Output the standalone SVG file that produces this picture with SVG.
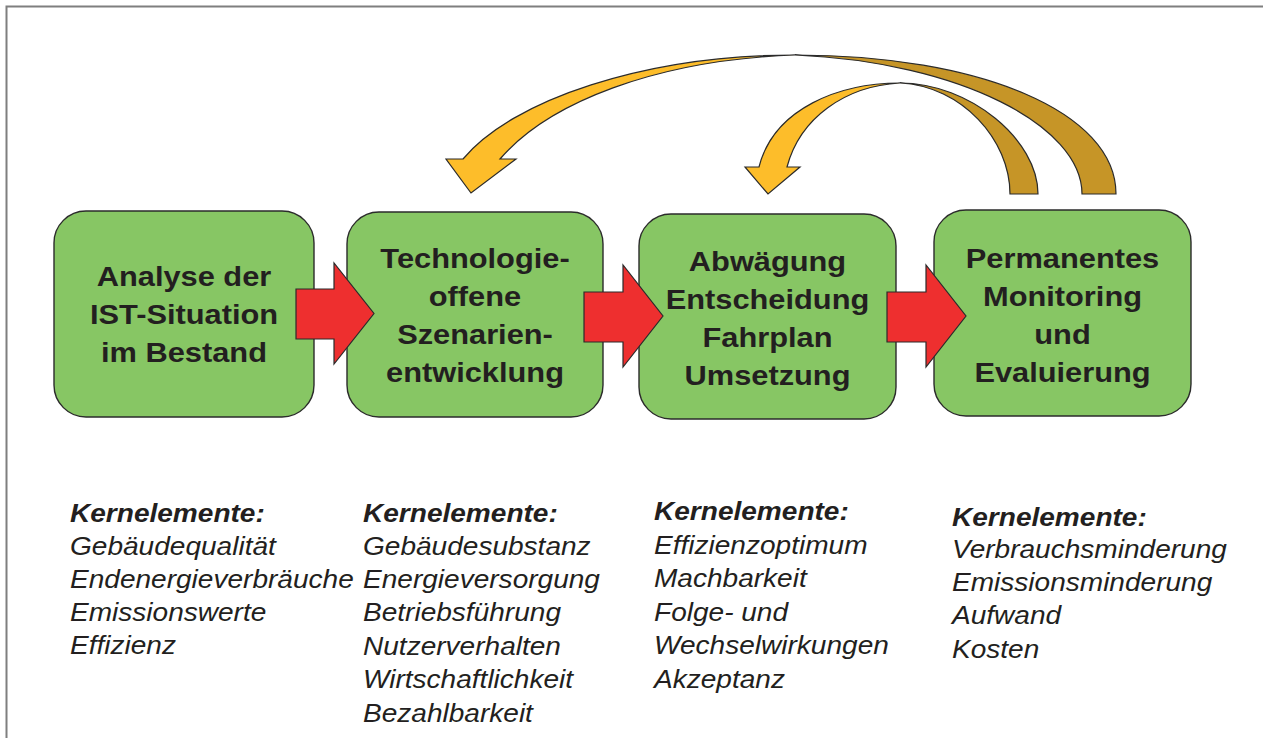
<svg xmlns="http://www.w3.org/2000/svg" width="1263" height="738" viewBox="0 0 1263 738">
  <style>
    .box { fill: #87c664; stroke: #2b2b2b; stroke-width: 1.4; }
    .title { font-family: "Liberation Sans", Arial, sans-serif; font-weight: bold; font-size: 28px; fill: #231f20; text-anchor: middle; }
    .head { font-family: "Liberation Sans", Arial, sans-serif; font-weight: bold; font-style: italic; font-size: 25.5px; fill: #231f20; }
    .item { font-family: "Liberation Sans", Arial, sans-serif; font-style: italic; font-size: 25.5px; fill: #231f20; }
    .flow { fill: #ee2f2f; stroke: #2b2b2b; stroke-width: 1.2; stroke-linejoin: miter; }
    .front { fill: #fdbd2a; stroke: #2b2b2b; stroke-width: 1.2; stroke-linejoin: miter; }
    .back { fill: #c69527; stroke: #2b2b2b; stroke-width: 1.2; stroke-linejoin: miter; }
  </style>

  <rect x="0" y="0" width="1263" height="738" fill="#ffffff"/>
  <!-- frame -->
  <path d="M6.5,745 V6.5 H1270" fill="none" stroke="#7f7f7f" stroke-width="2"/>

  <!-- process steps -->
  <g id="step-analyse">
    <rect class="box" x="54" y="211" width="260" height="206" rx="32" ry="32"/>
    <g transform="translate(184,0) scale(1.1,1)">
      <text class="title" x="0" y="286">Analyse der</text>
      <text class="title" x="0" y="324">IST-Situation</text>
      <text class="title" x="0" y="362">im Bestand</text>
    </g>
  </g>

  <g id="step-szenarien">
    <rect class="box" x="347" y="212" width="256" height="205" rx="32" ry="32"/>
    <g transform="translate(475,0) scale(1.1,1)">
      <text class="title" x="0" y="268">Technologie-</text>
      <text class="title" x="0" y="306">offene</text>
      <text class="title" x="0" y="344">Szenarien-</text>
      <text class="title" x="0" y="382">entwicklung</text>
    </g>
  </g>

  <g id="step-entscheidung">
    <rect class="box" x="639" y="214" width="257" height="205" rx="32" ry="32"/>
    <g transform="translate(767.5,0) scale(1.1,1)">
      <text class="title" x="0" y="271">Abwägung</text>
      <text class="title" x="0" y="309">Entscheidung</text>
      <text class="title" x="0" y="347">Fahrplan</text>
      <text class="title" x="0" y="385">Umsetzung</text>
    </g>
  </g>

  <g id="step-monitoring">
    <rect class="box" x="934" y="210" width="257" height="206" rx="32" ry="32"/>
    <g transform="translate(1062.5,0) scale(1.1,1)">
      <text class="title" x="0" y="268">Permanentes</text>
      <text class="title" x="0" y="306">Monitoring</text>
      <text class="title" x="0" y="344">und</text>
      <text class="title" x="0" y="382">Evaluierung</text>
    </g>
  </g>

  <!-- connectors -->
  <g id="connectors">
    <!-- block arrows between steps -->
    <path class="flow" d="M296,289 H334 V263 L374,313.5 L334,364 V339 H296 Z"/>
    <path class="flow" d="M584,292 H623 V265 L663,316 L623,367 V342 H584 Z"/>
    <path class="flow" d="M887,292 H926 V265 L966,316 L926,367 V342 H887 Z"/>

    <!-- feedback loop: monitoring back to scenario development -->
    <path class="back" d="M795,55 C980,55 1116,112 1116,194 L1082,194 C1082,126 960,62 795,55 Z"/>
    <path class="front" d="M795,55 C645,55 512,100 463,159 L446,159 L471,193 L516,159 L500,159 C548,103 655,60 795,55 Z"/>

    <!-- feedback loop: monitoring back to decision -->
    <path class="back" d="M900,83 C970,83 1038,140 1038,194 L1010,194 C1010,140 962,86 900,83 Z"/>
    <path class="front" d="M900,83 C840,83 774,108 759,167 L745,167 L768,194 L800,167 L787,167 C800,118 845,86 900,83 Z"/>
  </g>

  <!-- core elements per step -->
  <g id="list-analyse" transform="translate(70,0) scale(1.1,1)">
    <text class="head" x="0" y="522">Kernelemente:</text>
    <text class="item" x="0" y="555">Gebäudequalität</text>
    <text class="item" x="0" y="588">Endenergieverbräuche</text>
    <text class="item" x="0" y="621">Emissionswerte</text>
    <text class="item" x="0" y="654">Effizienz</text>
  </g>

  <g id="list-szenarien" transform="translate(363,0) scale(1.1,1)">
    <text class="head" x="0" y="522">Kernelemente:</text>
    <text class="item" x="0" y="555">Gebäudesubstanz</text>
    <text class="item" x="0" y="588">Energieversorgung</text>
    <text class="item" x="0" y="621">Betriebsführung</text>
    <text class="item" x="0" y="655">Nutzerverhalten</text>
    <text class="item" x="0" y="688">Wirtschaftlichkeit</text>
    <text class="item" x="0" y="722">Bezahlbarkeit</text>
  </g>

  <g id="list-entscheidung" transform="translate(654,0) scale(1.1,1)">
    <text class="head" x="0" y="520">Kernelemente:</text>
    <text class="item" x="0" y="554">Effizienzoptimum</text>
    <text class="item" x="0" y="587">Machbarkeit</text>
    <text class="item" x="0" y="621">Folge- und</text>
    <text class="item" x="0" y="654">Wechselwirkungen</text>
    <text class="item" x="0" y="688">Akzeptanz</text>
  </g>

  <g id="list-monitoring" transform="translate(952,0) scale(1.1,1)">
    <text class="head" x="0" y="526">Kernelemente:</text>
    <text class="item" x="0" y="558">Verbrauchsminderung</text>
    <text class="item" x="0" y="591">Emissionsminderung</text>
    <text class="item" x="0" y="624">Aufwand</text>
    <text class="item" x="0" y="658">Kosten</text>
  </g>
</svg>
